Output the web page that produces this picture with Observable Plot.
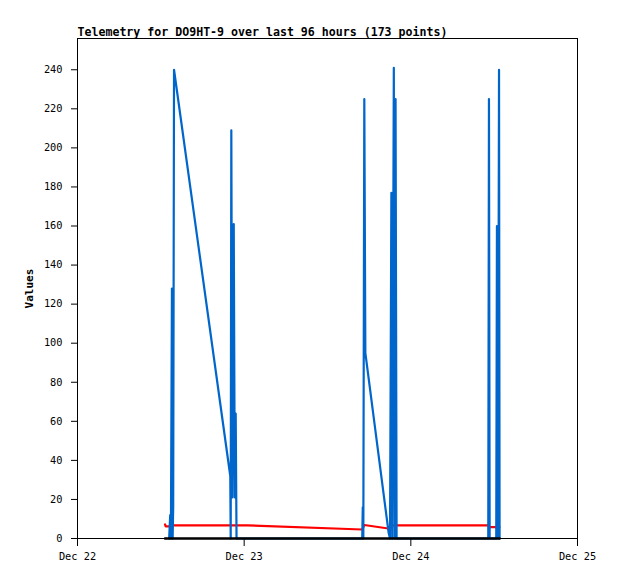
<!DOCTYPE html>
<html><head><meta charset="utf-8">
<script src="https://cdn.jsdelivr.net/npm/d3@7"></script>
<script src="https://cdn.jsdelivr.net/npm/@observablehq/plot@0.6"></script>
<style>
body{margin:0;background:#fff;}
#chart svg{display:block;}
g[aria-label="y-axis label"] text{font-weight:bold;font-size:11px;}
</style></head><body><div id="chart"></div>
<script>
const titleText = "Telemetry for DO9HT-9 over last 96 hours (173 points)";
const yLabel = "Values";
// hours since Dec 22 00:00
const dayTicks = [0, 24, 48, 72];
const dayLabels = ["Dec 22", "Dec 23", "Dec 24", "Dec 25"];
const yTicks = [0, 20, 40, 60, 80, 100, 120, 140, 160, 180, 200, 220, 240];

const blueHours  = [13.2, 13.35, 13.45, 13.6, 13.7, 13.78, 13.9, 22.0, 22.06, 22.15, 22.3, 22.5, 22.65, 22.78, 22.9,
                    41.0, 41.08, 41.16, 41.3, 41.45, 44.8, 45.0, 45.2, 45.33, 45.55, 45.68, 45.8, 45.95,
                    59.15, 59.25, 59.35, 60.3, 60.4, 60.55, 60.7, 60.78];
const blueValues = [0, 12, 0, 128, 0, 16, 240, 32, 0, 209, 21, 161, 21, 64, 0,
                    0, 16, 0, 225, 95, 3, 0, 177, 0, 241, 0, 225, 0,
                    0, 225, 0, 0, 160, 0, 240, 0];

const redHours  = [12.6, 12.7, 13.3, 13.4, 24.5, 41.0, 41.3, 45.0, 45.25, 59.1, 59.3, 60.75];
const redValues = [7.2, 6.2, 6.2, 6.7, 6.7, 4.6, 6.9, 5.0, 6.7, 6.7, 5.8, 5.8];

const blackHours  = [12.6, 60.78];
const blackValues = [0, 0];

const blue = blueHours.map((h, i) => ({h, v: blueValues[i]}));
const red = redHours.map((h, i) => ({h, v: redValues[i]}));
const black = blackHours.map((h, i) => ({h, v: blackValues[i]}));

const chart = Plot.plot({
  width: 618, height: 579,
  marginLeft: 77, marginRight: 41, marginTop: 38, marginBottom: 41,
  style: {fontFamily: "'DejaVu Sans Mono', monospace", fontSize: "10.3px", background: "#fff", color: "#000"},
  x: {domain: [0, 72]},
  y: {domain: [0, 256]},
  marks: [
    Plot.line(red, {x: "h", y: "v", stroke: "#ff0000", strokeWidth: 2.2}),
    Plot.line(blue, {x: "h", y: "v", stroke: "#0066cc", strokeWidth: 2.2}),
    Plot.line(black, {x: "h", y: "v", stroke: "#000", strokeWidth: 2.5}),
    Plot.frame({stroke: "#000"}),
    Plot.axisX({ticks: dayTicks, tickFormat: d => dayLabels[dayTicks.indexOf(d)], tickSize: 8, tickPadding: 6, label: null}),
    Plot.axisY({ticks: yTicks, tickSize: 6, tickPadding: 9, label: yLabel, labelAnchor: "center", labelArrow: "none", labelOffset: 52}),
    Plot.text([titleText], {text: d => d, frameAnchor: "top-left", dy: -3, lineAnchor: "bottom", textAnchor: "start", fontWeight: "bold", fontSize: 11.6})
  ]
});
document.getElementById("chart").appendChild(chart);
</script>
</body></html>
